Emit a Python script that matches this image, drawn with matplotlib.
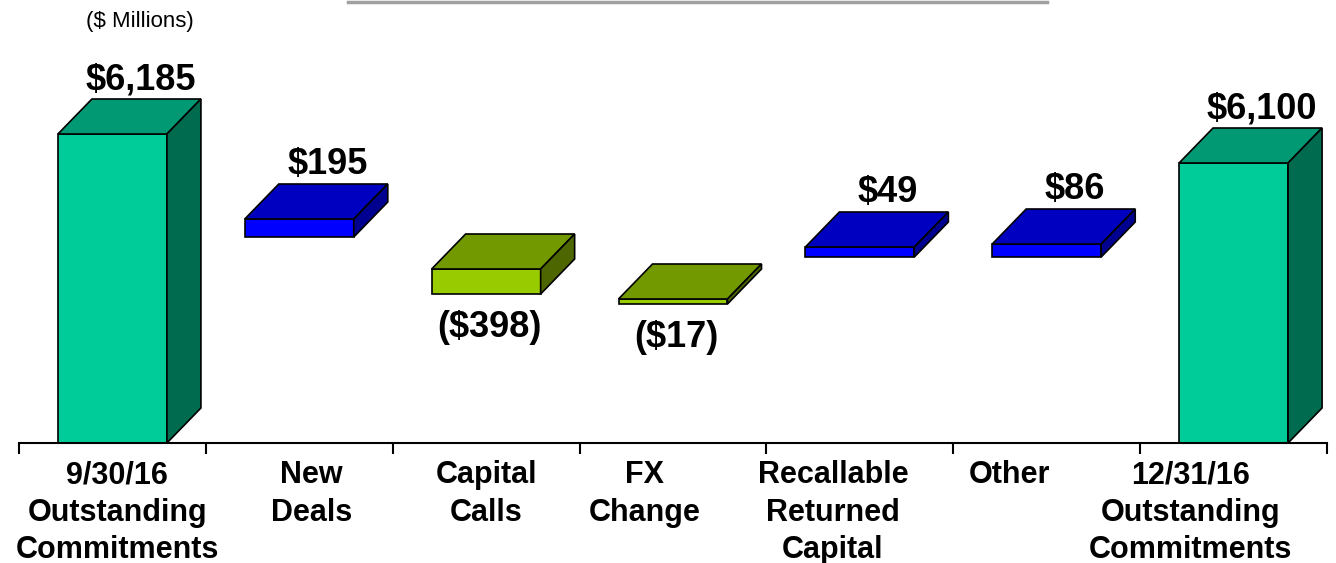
import matplotlib
matplotlib.use('Agg')
import matplotlib.pyplot as plt
from matplotlib.patches import Polygon
from matplotlib.lines import Line2D

plt.rcParams['font.family'] = ['Liberation Sans', 'DejaVu Sans']

# categories and values ($ Millions)
categories = ['9/30/16\nOutstanding\nCommitments', 'New\nDeals', 'Capital\nCalls',
              'FX\nChange', 'Recallable\nReturned\nCapital', 'Other',
              '12/31/16\nOutstanding\nCommitments']
values = [6185, 195, -398, -17, 49, 86, 6100]
value_labels = ['$6,185', '$195', '($398)', '($17)', '$49', '$86', '$6,100']
kinds = ['total', 'up', 'down', 'down', 'up', 'up', 'total']

# drawn bar extents (chart height units, axis line = 0)
bar_bottom = [0, 206, 149, 139, 186, 186, 0]
bar_top = [309, 224, 174, 144, 196, 199, 280]

colors = {
    'total': ('#00CC99', '#009973', '#006B4F'),
    'up': ('#0000FF', '#0000C0', '#000090'),
    'down': ('#99CC00', '#739900', '#4D6600'),
}

# category labels in the original sit a little off their slot centres (px)
label_shift = [5, 12, 0, -28, -27, -37, -43]

W, H = 1336, 563
fig = plt.figure(figsize=(W / 100, H / 100), dpi=100)
ax_left, ax_right, ax_base = 19, 1327, 443
ax = fig.add_axes([ax_left / W, (H - ax_base) / H, (ax_right - ax_left) / W, ax_base / H])
ax.set_xlim(0, len(categories))
ax.set_ylim(0, ax_base)

px = len(categories) / (ax_right - ax_left)  # one pixel in x data units
bar_w = 109 * px
dx, dy = 34 * px, 35

for i, (kind, b, t) in enumerate(zip(kinds, bar_bottom, bar_top)):
    front, top_c, side_c = colors[kind]
    c = i + 0.5
    x0, x1 = c - bar_w / 2, c + bar_w / 2
    kw = dict(edgecolor='black', linewidth=1.2, joinstyle='miter', clip_on=False)
    ax.add_patch(Polygon([(x0, b), (x1, b), (x1, t), (x0, t)], closed=True, facecolor=front, **kw))
    ax.add_patch(Polygon([(x0, t), (x1, t), (x1 + dx, t + dy), (x0 + dx, t + dy)],
                         closed=True, facecolor=top_c, **kw))
    ax.add_patch(Polygon([(x1, b), (x1 + dx, b + dy), (x1 + dx, t + dy), (x1, t)],
                         closed=True, facecolor=side_c, **kw))
    if values[i] >= 0:
        ax.text(c + 28 * px, t + dy + 10, value_labels[i], ha='center', va='baseline',
                fontsize=26, fontweight='bold')
    else:
        ax.text(c + 3 * px, b - 43, value_labels[i], ha='center', va='baseline',
                fontsize=26, fontweight='bold')

    ax.text(c + label_shift[i] * px, -17, categories[i], ha='center', va='top',
            fontsize=22, fontweight='bold', linespacing=1.33, clip_on=False)

ax.text(0.5 + 27 * px, 416, '($ Millions)', ha='center', va='baseline', fontsize=16)

for s in ['top', 'right', 'left']:
    ax.spines[s].set_visible(False)
ax.spines['bottom'].set_linewidth(1.5)
ax.set_yticks([])
ax.set_xticks(range(len(categories) + 1))
ax.set_xticklabels([])
ax.tick_params(axis='x', length=8, width=1.5, direction='out')

# thin grey rule at the top of the slide
fig.add_artist(Line2D([348 / W, 1047 / W], [1 - 1.5 / H, 1 - 1.5 / H],
                      transform=fig.transFigure, color='#a0a0a0', linewidth=2.5))

fig.savefig('out.png', dpi=100)
